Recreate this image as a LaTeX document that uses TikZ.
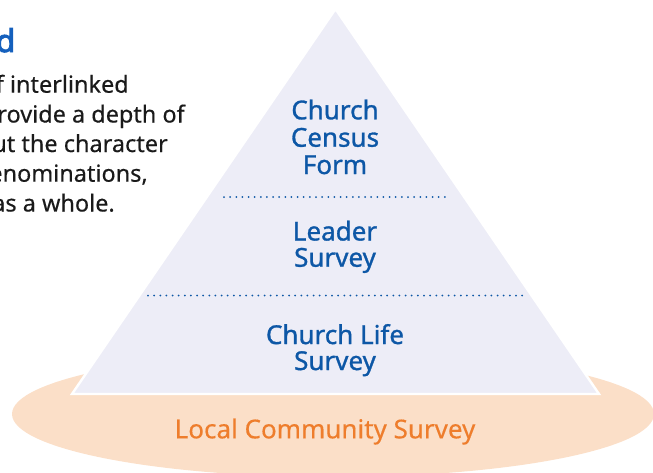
\documentclass[tikz,border=0pt]{standalone}
\usepackage{fontspec}
\setmainfont{Noto Sans}
\newfontfamily\lvlfont[FakeBold=1.1]{Noto Sans}
\newfontfamily\plainfont[FakeBold=0.35]{Noto Sans}
\newfontfamily\heavyfont[FakeBold=3]{Noto Sans}
\definecolor{trifill}{HTML}{EDEDF7}
\definecolor{peach}{HTML}{FBDFC8}
\definecolor{lvlblue}{HTML}{0D57A6}
\definecolor{lcsorange}{HTML}{EE7D2C}
\definecolor{ttlblue}{HTML}{1560BD}
\definecolor{bodytext}{HTML}{1A1A1A}
\begin{document}
\begin{tikzpicture}[x=0.75pt,y=-0.75pt,
  lvl/.style={anchor=base, inner sep=0pt, text=lvlblue, font=\lvlfont\fontsize{19.5}{20}\selectfont},
  bodyline/.style={anchor=base east, inner sep=0pt, text=bodytext, font=\plainfont\fontsize{17.6}{20}\selectfont},
  dotline/.style={draw=lvlblue, line width=1.5pt, line cap=round, dash pattern=on 0pt off 4.6pt}]
\useasboundingbox (0,0) rectangle (653,472);
\clip (0,0) rectangle (653,472);
% base ellipse
\fill[peach] (333,414) ellipse [x radius=321, y radius=63];
% pyramid
\coordinate (apex) at (335.5,9);
\coordinate (bl) at (72,394);
\coordinate (br) at (599,394);
\filldraw[fill=trifill, draw=white, line width=1.8pt, line join=miter] (apex) -- (bl) -- (br) -- cycle;
% dotted separators
\coordinate (d1l) at (224,197);
\coordinate (d1r) at (447,197);
\coordinate (d2l) at (148,295.5);
\coordinate (d2r) at (523,295.5);
\draw[dotline] (d1l) -- (d1r);
\draw[dotline] (d2l) -- (d2r);
% pyramid labels
\node[lvl] (ccf1) at (335,119.3) {Church};
\node[lvl] (ccf2) at (335,146.7) {Census};
\node[lvl] (ccf3) at (335,174) {Form};
\node[lvl] (ls1) at (335,240.5) {Leader};
\node[lvl] (ls2) at (335,266.7) {Survey};
\node[lvl] (cls1) at (335,344) {Church Life};
\node[lvl] (cls2) at (335,370) {Survey};
% community label
\node[anchor=base, inner sep=0pt, text=lcsorange, font=\plainfont\fontsize{19.5}{20}\selectfont] (lcs) at (325,438.3) {Local Community Survey};
% left text block (cut by the picture edge)
\node[anchor=base east, inner sep=0pt, text=ttlblue, font=\heavyfont\fontsize{23.5}{24}\selectfont] (title) at (15.5,52) {d};
\node[bodyline, anchor=base west] (b1) at (-4.5,92.7) {f interlinked};
\node[bodyline] (b2) at (185,122.5) {provide a depth of};
\node[bodyline] (b3) at (168,152) {ut the character};
\node[bodyline] (b4) at (148,181.7) {enominations,};
\node[bodyline] (b5) at (115,211.5) {as a whole.};
\end{tikzpicture}
\end{document}
